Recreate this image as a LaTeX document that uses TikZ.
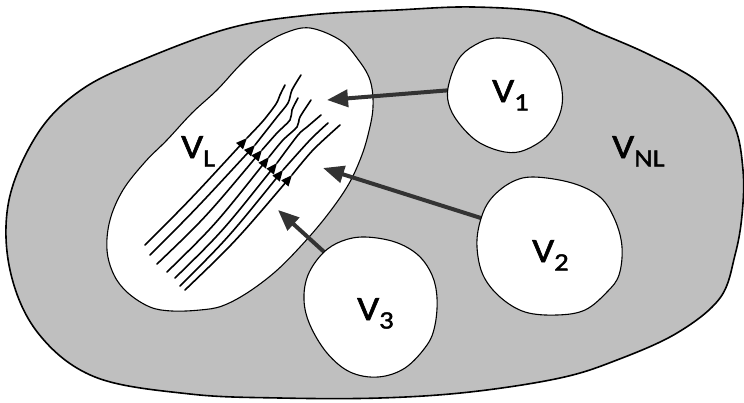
\documentclass[tikz,border=0pt]{standalone}
\usepackage{fontspec}
\setmainfont{Carlito}
\newfontface\lblfont{Carlito}[FakeBold=1.6]
\usetikzlibrary{arrows.meta}
% volume label: a large, slightly widened V with a lowered index
\newcommand\volname[1]{\scalebox{1.14}[1]{\lblfont\fontsize{34}{34}\selectfont V\raisebox{-8.5pt}{\fontsize{25}{25}\selectfont #1}}}
\begin{document}
\begin{tikzpicture}[x=1pt,y=-1pt,
  outerbody/.style={fill=black!25,draw=black,line width=1.6pt},
  region/.style={fill=white,draw=black,line width=1.1pt},
  inflow/.style={draw=black!80,line width=4pt,-{Triangle[length=21pt,width=17pt]}},
  fline/.style={draw=black,line width=1.6pt,line cap=round},
  fhead/.style={fline,-{Triangle[length=11pt,width=9pt]}},
  lbl/.style={anchor=base west,inner sep=0pt}]
\useasboundingbox (0,0) rectangle (744,402);
\fill[white] (0,0) rectangle (744,402);

% non-local volume
\draw[outerbody] plot[smooth cycle,tension=0.6] coordinates {
  (142,60) (230,28) (310,15) (397,10) (473,7) (550,13) (597,32) (650,55)
  (700,83) (733,123) (743,170) (742,215) (735,255) (720,298) (677,333)
  (617,360) (560,378) (470,392) (380,398) (280,398) (190,394) (95,377)
  (38,333) (10,270) (9,200) (38,133) (81,90)};

% local volume
\draw[region] plot[smooth cycle,tension=0.6] coordinates {
  (310,28) (340,40) (357,58) (370,80) (373,107) (368,135) (360,160)
  (347,187) (325,218) (300,247) (275,272) (247,293) (222,306) (200,310)
  (172,311) (150,307) (128,293) (114,275) (107,250) (110,220) (123,190)
  (145,162) (167,140) (192,113) (217,90) (240,65) (260,47) (285,33)};

% arrow end points
\coordinate (s1) at (452,90);
\coordinate (t1) at (327,100);
\coordinate (s2) at (484,219);
\coordinate (t2) at (323,168);
\coordinate (s3) at (333,260);
\coordinate (t3) at (278,210);

\draw[inflow] (s1) -- (t1);
\draw[inflow] (s2) -- (t2);
\draw[inflow] (s3) -- (t3);

% field lines with their direction marks
\coordinate (a0) at (145,245); \coordinate (a1) at (247,138);
\coordinate (b0) at (150,255); \coordinate (b1) at (255,145);
\coordinate (c0) at (157,264); \coordinate (c1) at (262,150);
\coordinate (d0) at (167,272); \coordinate (d1) at (269,157);
\coordinate (e0) at (175,278); \coordinate (e1) at (277,163);
\coordinate (f0) at (180,286); \coordinate (f1) at (283,170);
\coordinate (g0) at (185,290); \coordinate (g1) at (292,175);

\draw[fhead] (a0) .. controls (190,200) .. (a1);
\draw[fline] plot[smooth] coordinates {(a1) (263,121) (276,104) (280,95) (285,85)};
\draw[fhead] (b0) .. controls (195,210) .. (b1);
\draw[fline] plot[smooth] coordinates {(b1) (277,117) (288,103) (292,90) (301,75)};
\draw[fhead] (c0) .. controls (205,218) .. (c1);
\draw[fline] plot[smooth] coordinates {(c1) (277,133) (290,120) (292,110) (298,98)};
\draw[fhead] (d0) .. controls (215,225) .. (d1);
\draw[fline] plot[smooth] coordinates {(d1) (283,140) (297,127) (300,117) (311,100)};
\draw[fhead] (e0) .. controls (222,232) .. (e1);
\draw[fline] plot[smooth] coordinates {(e1) (298,135) (307,127) (321,115)};
\draw[fhead] (f0) .. controls (228,238) .. (f1);
\draw[fline] plot[smooth] coordinates {(f1) (310,140) (328,123)};
\draw[fhead] (g0) .. controls (235,242) .. (g1);
\draw[fline] plot[smooth] coordinates {(g1) (313,150) (340,125)};

% source volumes
\draw[region] plot[smooth cycle,tension=0.6] coordinates {
  (497,38) (530,44) (550,60) (561,85) (561,110) (548,135) (525,150)
  (505,152) (480,143) (462,127) (450,108) (448,88) (458,60) (475,45)};
\draw[region] plot[smooth cycle,tension=0.6] coordinates {
  (533,177) (572,183) (600,197) (615,220) (622,247) (619,275) (607,292)
  (585,310) (557,315) (525,312) (500,297) (483,275) (477,247) (480,222)
  (490,200) (510,183)};
\draw[region] plot[smooth cycle,tension=0.6] coordinates {
  (365,237) (395,242) (418,255) (432,275) (437,298) (435,325) (427,345)
  (405,368) (378,377) (350,372) (327,353) (310,325) (304,300) (308,275)
  (323,253) (342,241)};

% labels
\node[lbl] (lL)  at (181,158) {\volname{L}};
\node[lbl] (l1)  at (492,102) {\volname{1}};
\node[lbl] (lNL) at (612,158) {\volname{NL}};
\node[lbl] (l2)  at (532,262) {\volname{2}};
\node[lbl] (l3)  at (357,320) {\volname{3}};
\end{tikzpicture}
\end{document}
